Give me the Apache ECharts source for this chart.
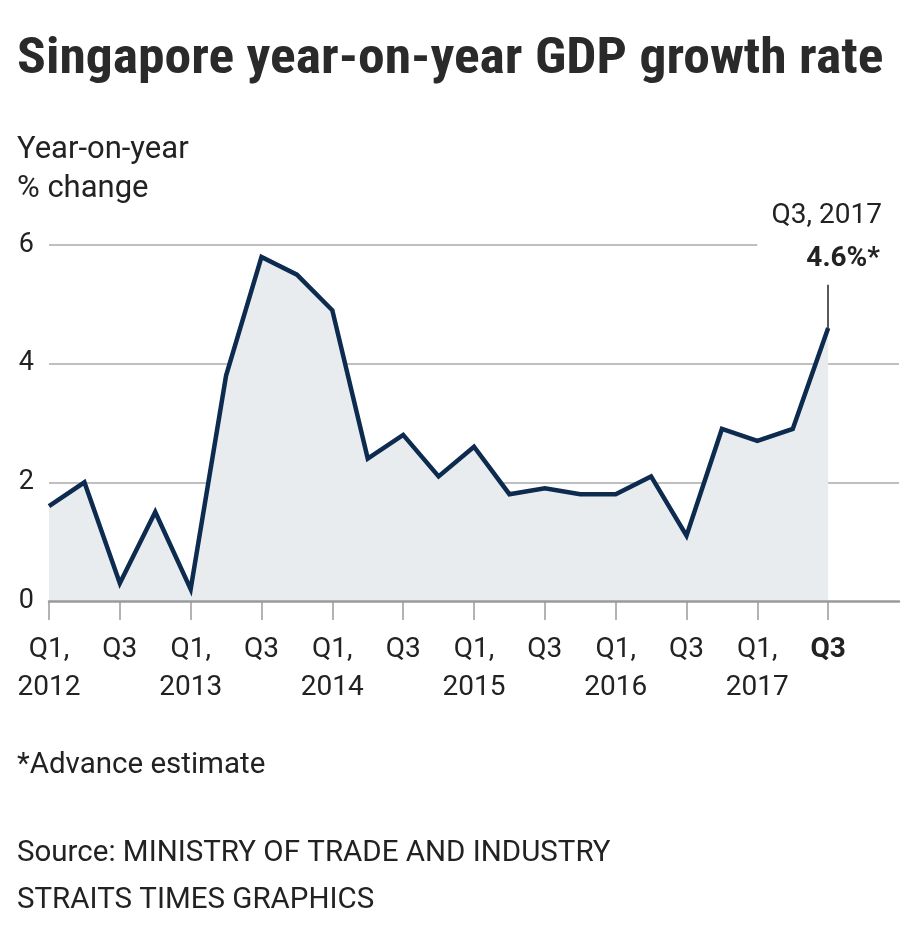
<!DOCTYPE html>
<html>
<head>
<meta charset="utf-8">
<script src="https://cdn.jsdelivr.net/npm/echarts@6/dist/echarts.min.js"></script>
<style>
html,body{margin:0;padding:0;background:#fff;}
#c{width:920px;height:944px;}
</style>
</head>
<body>
<div id="c"></div>
<script>
// ---- data ----
const quarters = ['Q1 2012','Q2 2012','Q3 2012','Q4 2012','Q1 2013','Q2 2013','Q3 2013','Q4 2013','Q1 2014','Q2 2014','Q3 2014','Q4 2014','Q1 2015','Q2 2015','Q3 2015','Q4 2015','Q1 2016','Q2 2016','Q3 2016','Q4 2016','Q1 2017','Q2 2017','Q3 2017','',' '];
const tickLabels = ['Q1,\n2012','','Q3','','Q1,\n2013','','Q3','','Q1,\n2014','','Q3','','Q1,\n2015','','Q3','','Q1,\n2016','','Q3','','Q1,\n2017','','Q3','',''];
const growth = [1.6,2.0,0.3,1.5,0.2,3.8,5.8,5.5,4.9,2.4,2.8,2.1,2.6,1.8,1.9,1.8,1.8,2.1,1.1,2.9,2.7,2.9,4.6];
const yTicks = [0,2,4,6];
const gridValues = [2,4];
const topGrid = 6;
const latestIndex = 22;
const latestValue = 4.6;

const FONT = 'Roboto,"Liberation Sans",sans-serif';
const TFONT = '"Roboto Condensed",Roboto,sans-serif';
const TXT = '#222222';

const chart = echarts.init(document.getElementById('c'), null, {renderer:'canvas'});

const gridLineData = gridValues.map(v => [{coord:[0, v]}, {coord:[quarters.length-1, v]}]);
gridLineData.push([{coord:[0, topGrid]}, {coord:[20, topGrid]}]);

chart.setOption({
  animation:false,
  backgroundColor:'#ffffff',
  textStyle:{fontFamily:FONT},
  grid:{left:49, right:21, top:245, bottom:343, containLabel:false},
  xAxis:{
    type:'category',
    data:quarters,
    boundaryGap:false,
    z:4,
    axisLine:{show:true, lineStyle:{color:'#9a9a9a', width:2.5}},
    axisTick:{show:true, length:19, lineStyle:{color:'#9a9a9a', width:1.5},
      interval:(i)=> i % 2 === 0 && i <= latestIndex},
    axisLabel:{
      interval:(i)=> i % 2 === 0 && i <= latestIndex,
      margin:30,
      color:TXT,
      fontFamily:FONT,
      fontSize:28,
      lineHeight:38,
      formatter:(v, i)=> i === latestIndex ? '{b|' + tickLabels[i] + '}' : tickLabels[i],
      rich:{b:{fontWeight:'bold', fontSize:28, color:TXT, fontFamily:FONT, lineHeight:38}}
    },
    splitLine:{show:false}
  },
  yAxis:{
    type:'value',
    min:0, max:6, interval:2,
    axisLine:{show:false},
    axisTick:{show:false},
    splitLine:{show:false},
    axisLabel:{color:TXT, fontFamily:FONT, fontSize:27, margin:15,
      formatter:(v)=> yTicks.includes(v) ? String(v) : ''}
  },
  series:[{
    type:'line',
    data:growth,
    symbol:'none',
    lineStyle:{color:'#0d2a4f', width:4.5, join:'miter'},
    areaStyle:{color:'#e8ecee', opacity:1},
    z:2,
    markLine:{
      silent:true,
      symbol:'none',
      label:{show:false},
      lineStyle:{color:'#aaaaaa', width:1.5, type:'solid'},
      z:1,
      data:gridLineData.concat([
        [{coord:[latestIndex, latestValue], lineStyle:{color:'#222', width:1.5}},
         {coord:[latestIndex, 5.33], lineStyle:{color:'#222', width:1.5}}]
      ])
    }
  }],
  graphic:[
    {type:'text', left:17, top:35, scaleX:1.072, style:{text:'Singapore year-on-year GDP growth rate', font:'bold 50px ' + TFONT, fill:'#2a2a2a'}},
    {type:'text', left:17, top:135, style:{text:'Year-on-year', font:'31px ' + FONT, fill:TXT}},
    {type:'text', left:17, top:174, style:{text:'% change', font:'31px ' + FONT, fill:TXT}},
    {type:'text', right:38, top:202, style:{text:'Q3, 2017', font:'28px ' + FONT, fill:TXT, textAlign:'right'}},
    {type:'text', right:40, top:245, style:{text:'4.6%*', font:'bold 28px ' + FONT, fill:TXT, textAlign:'right'}},
    {type:'text', left:17, top:751, style:{text:'*Advance estimate', font:'29.5px ' + FONT, fill:TXT}},
    {type:'text', left:17, top:839, style:{text:'Source: MINISTRY OF TRADE AND INDUSTRY', font:'29.5px ' + FONT, fill:TXT}},
    {type:'text', left:17, top:886, style:{text:'STRAITS TIMES GRAPHICS', font:'29.5px ' + FONT, fill:TXT}}
  ]
});
</script>
</body>
</html>
